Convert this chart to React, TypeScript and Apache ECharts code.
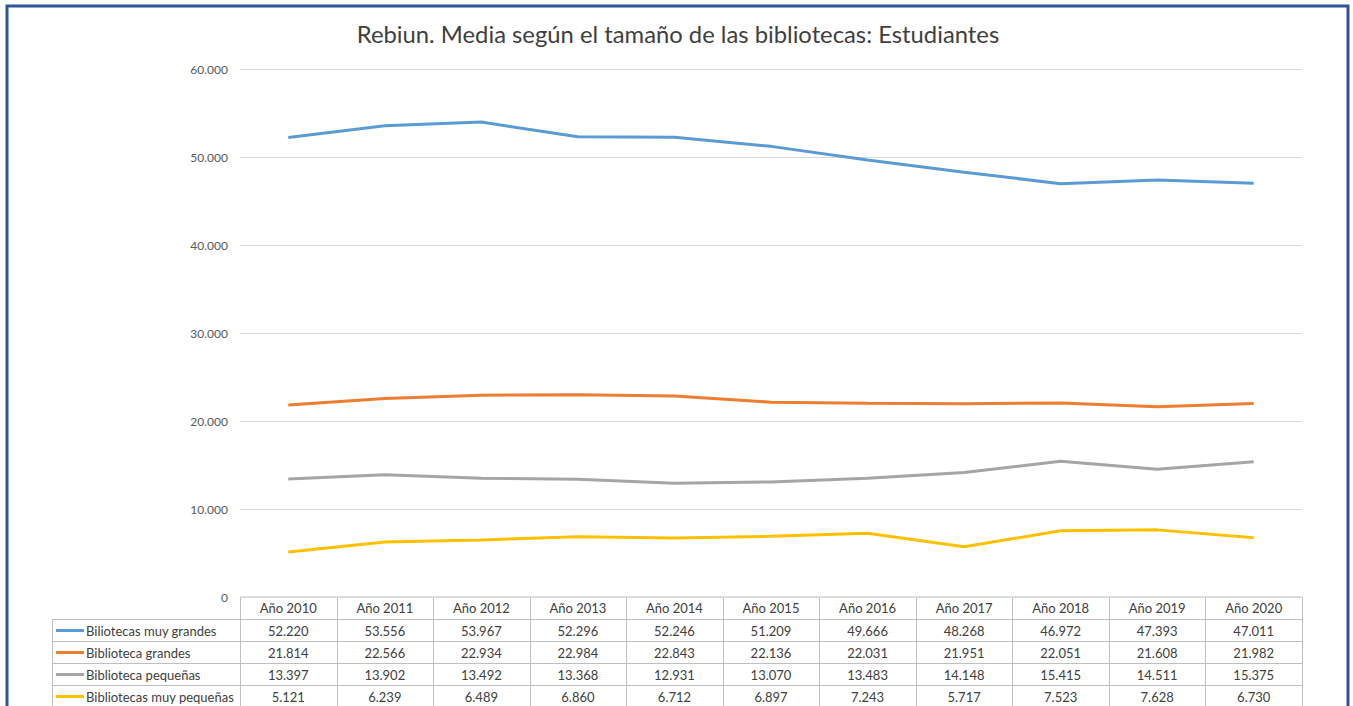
import React, { useEffect, useRef } from "react";
import * as echarts from "echarts";

const years = ["Año 2010", "Año 2011", "Año 2012", "Año 2013", "Año 2014", "Año 2015", "Año 2016", "Año 2017", "Año 2018", "Año 2019", "Año 2020"];
const seriesNames = ["Biliotecas muy grandes", "Biblioteca grandes", "Biblioteca pequeñas", "Bibliotecas muy pequeñas"];
const muyGrandes = [52220, 53556, 53967, 52296, 52246, 51209, 49666, 48268, 46972, 47393, 47011];
const grandes = [21814, 22566, 22934, 22984, 22843, 22136, 22031, 21951, 22051, 21608, 21982];
const pequenas = [13397, 13902, 13492, 13368, 12931, 13070, 13483, 14148, 15415, 14511, 15375];
const muyPequenas = [5121, 6239, 6489, 6860, 6712, 6897, 7243, 5717, 7523, 7628, 6730];
const colors = ["#5B9BD5", "#ED7D31", "#A5A5A5", "#FFC000"];
const title = "Rebiun. Media según el tamaño de las bibliotecas: Estudiantes";

const fmt = (v: number) => String(Math.round(v)).replace(/\B(?=(\d{3})+(?!\d))/g, ".");

export default function App() {
  const ref = useRef<HTMLDivElement>(null);
  useEffect(() => {
    if (!ref.current) return;
    const chart = echarts.init(ref.current, null, { renderer: "svg" });
    const W = 1353, H = 706;
    const gl = 240, gr = 1302, gt = 69, gb = 597;
    const colW = (gr - gl) / years.length;
    const rowH = 22;
    const tLeft = 52;
    const font = "Lato, 'Noto Sans', sans-serif";
    const data = [muyGrandes, grandes, pequenas, muyPequenas];
    const lineStyle = { stroke: "#BFBFBF", lineWidth: 1 };
    const g: any[] = [];
    // frame
    g.push({ type: "rect", shape: { x: 7, y: 6, width: 1341, height: 740 }, style: { fill: "none", stroke: "#2F5597", lineWidth: 3 }, silent: true, z: 100 });
    // table horizontal lines
    g.push({ type: "line", shape: { x1: gl, y1: gb, x2: gr, y2: gb }, style: lineStyle });
    for (let r = 1; r <= 5; r++) {
      const y = gb + r * rowH + 0.5;
      g.push({ type: "line", shape: { x1: tLeft, y1: y, x2: gr, y2: y }, style: lineStyle });
    }
    // vertical lines
    g.push({ type: "line", shape: { x1: tLeft + 0.5, y1: gb + rowH, x2: tLeft + 0.5, y2: gb + 5 * rowH }, style: lineStyle });
    for (let c = 0; c <= years.length; c++) {
      const x = Math.round(gl + c * colW) + 0.5;
      g.push({ type: "line", shape: { x1: x, y1: gb, x2: x, y2: gb + 5 * rowH }, style: lineStyle });
    }
    // rows
    seriesNames.forEach((name, i) => {
      const yc = gb + (i + 1) * rowH + rowH / 2 + 0.5;
      g.push({ type: "line", shape: { x1: 56, y1: yc, x2: 84, y2: yc }, style: { stroke: colors[i], lineWidth: 3 } });
      g.push({ type: "text", x: 86, y: yc, style: { text: name, fill: "#404040", font: `13px ${font}`, textAlign: "left", textVerticalAlign: "middle" } });
      data[i].forEach((v, c) => {
        g.push({ type: "text", x: gl + (c + 0.5) * colW, y: yc, style: { text: fmt(v), fill: "#404040", font: `13px ${font}`, textAlign: "center", textVerticalAlign: "middle" } });
      });
    });
    chart.setOption({
      animation: false,
      backgroundColor: "#FFFFFF",
      title: { text: title, left: 673, textAlign: "center", top: 17, textStyle: { fontFamily: font, fontSize: 23.8, fontWeight: "normal", color: "#404040" } },
      grid: { left: gl, right: W - gr, top: gt, bottom: H - gb, containLabel: false },
      xAxis: {
        type: "category",
        data: years,
        boundaryGap: true,
        axisLine: { show: false },
        axisTick: { show: false },
        axisLabel: { color: "#404040", fontFamily: font, fontSize: 13, margin: 4, interval: 0 },
      },
      yAxis: {
        type: "value",
        min: 0,
        max: 60000,
        interval: 10000,
        axisLine: { show: false },
        axisTick: { show: false },
        axisLabel: { color: "#595959", fontFamily: font, fontSize: 12, margin: 12, formatter: (v: number) => fmt(v) },
        splitLine: { lineStyle: { color: "#D9D9D9", width: 1 } },
      },
      series: data.map((d, i) => ({
        name: seriesNames[i],
        type: "line",
        data: d,
        symbol: "none",
        lineStyle: { color: colors[i], width: 3 },
        itemStyle: { color: colors[i] },
      })),
      graphic: g,
    });
    return () => chart.dispose();
  }, []);
  return <div ref={ref} style={{ position: "fixed", left: 0, top: 0, width: 1353, height: 706 }} />;
}
